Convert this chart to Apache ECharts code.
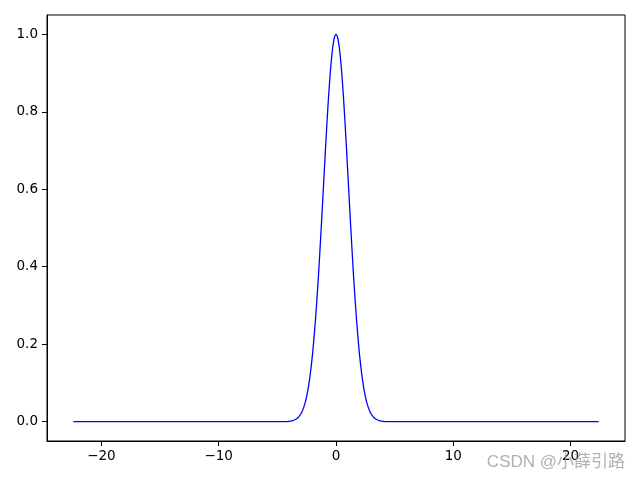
<!DOCTYPE html>
<html>
<head>
<meta charset="utf-8">
<script src="https://cdn.jsdelivr.net/npm/echarts@6/dist/echarts.min.js"></script>
<style>html,body{margin:0;padding:0;background:#fff}#c{width:640px;height:480px}</style>
</head>
<body>
<div id="c"></div>
<script>
const xValues = [-22.4, -15, -10, -6, -5, -4.5, -4, -3.75, -3.5, -3.25, -3, -2.75, -2.5, -2.25, -2, -1.75, -1.5, -1.25, -1, -0.875, -0.75, -0.625, -0.5, -0.375, -0.25, -0.125, 0,
  0.125, 0.25, 0.375, 0.5, 0.625, 0.75, 0.875, 1, 1.25, 1.5, 1.75, 2, 2.25, 2.5, 2.75, 3, 3.25, 3.5, 3.75, 4, 4.5, 5, 6, 10, 15, 22.4];
const yValues = [0, 0, 0, 0, 0, 0.0001, 0.0009, 0.0022, 0.0048, 0.0099, 0.0196, 0.0368, 0.0653, 0.1096, 0.1743, 0.2625, 0.3743, 0.5054, 0.6462, 0.7158, 0.7822, 0.8432, 0.8966, 0.9404, 0.9731, 0.9932, 1.0,
  0.9932, 0.9731, 0.9404, 0.8966, 0.8432, 0.7822, 0.7158, 0.6462, 0.5054, 0.3743, 0.2625, 0.1743, 0.1096, 0.0653, 0.0368, 0.0196, 0.0099, 0.0048, 0.0022, 0.0009, 0.0001, 0, 0, 0, 0, 0];
const xTicks = [-20, -10, 0, 10, 20];
const yTicks = [0, 0.2, 0.4, 0.6, 0.8, 1.0];
const watermark = 'CSDN @小薛引路';

const chart = echarts.init(document.getElementById('c'), null, {renderer: 'canvas'});
const fontFamily = '"DejaVu Sans", sans-serif';
chart.setOption({
  animation: false,
  backgroundColor: '#ffffff',
  grid: {left: 47, right: 15, top: 15, bottom: 39, show: true, borderColor: '#000', borderWidth: 1, backgroundColor: 'transparent'},
  xAxis: {
    type: 'value', min: -24.64, max: 24.64,
    splitLine: {show: false},
    axisLine: {show: true, onZero: false, lineStyle: {color: '#000', width: 1}},
    axisTick: {show: true, customValues: xTicks, length: 5, lineStyle: {color: '#000', width: 1}},
    axisLabel: {customValues: xTicks, color: '#000', fontSize: 13.5, fontFamily, margin: 8,
      formatter: v => (v < 0 ? '\u2212' + Math.abs(v) : String(v))}
  },
  yAxis: {
    type: 'value', min: -0.05, max: 1.05,
    splitLine: {show: false},
    axisLine: {show: true, onZero: false, lineStyle: {color: '#000', width: 1}},
    axisTick: {show: true, customValues: yTicks, length: 5, lineStyle: {color: '#000', width: 1}},
    axisLabel: {customValues: yTicks, color: '#000', fontSize: 13.5, fontFamily, margin: 9,
      formatter: v => v.toFixed(1)}
  },
  series: [{
    type: 'line',
    data: xValues.map((x, i) => [x, yValues[i]]),
    showSymbol: false,
    symbol: 'none',
    smooth: 0.2,
    lineStyle: {color: '#0000ff', width: 1.3},
    clip: true
  }],
  graphic: [{
    type: 'text', right: 15, top: 454, z: 100,
    style: {text: watermark, fill: 'rgba(150,150,150,0.75)', font: '17px "Liberation Sans", "Noto Sans CJK SC", sans-serif'}
  }]
});
</script>
</body>
</html>
